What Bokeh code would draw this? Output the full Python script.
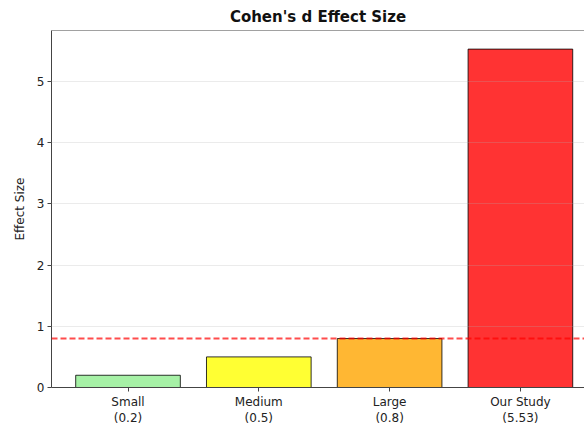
from bokeh.plotting import figure
from bokeh.models import Range1d, FixedTicker, Span, ColumnDataSource
from bokeh.embed import file_html
from bokeh.resources import INLINE

categories = ["Small\n(0.2)", "Medium\n(0.5)", "Large\n(0.8)", "Our Study\n(5.53)"]
effect_sizes = [0.2, 0.5, 0.8, 5.53]
bar_colors = ["#90EE90", "#FFFF00", "#FFA500", "#FF0000"]
threshold = 0.8
y_ticks = [0, 1, 2, 3, 4, 5]

positions = list(range(len(categories)))
src = ColumnDataSource(dict(x=positions, top=effect_sizes, color=bar_colors))

y_top = max(effect_sizes) * 1.055

p = figure(frame_width=533, frame_height=357, output_backend="svg", toolbar_location=None,
           x_range=Range1d(-0.585, 3.49), y_range=Range1d(0, y_top),
           min_border_left=51, min_border_top=30, min_border_right=0, min_border_bottom=0,
           title="Cohen's d Effect Size")
p.outline_line_color = None
p.background_fill_color = "white"
p.border_fill_color = "white"

p.title.align = "center"
p.title.text_font = "DejaVu Sans"
p.title.text_font_size = "15px"
p.title.text_font_style = "bold"
p.title.text_color = "#111111"

p.vbar(x="x", top="top", width=0.8, bottom=0, source=src, fill_color="color", fill_alpha=0.8,
       line_color="black", line_alpha=0.8, line_width=1)

p.add_layout(Span(location=threshold, dimension="width", line_color="red", line_alpha=0.7,
                  line_width=2, line_dash="6 3"))
p.add_layout(Span(location=y_top, dimension="width", line_color="#444444", line_width=1))

p.xgrid.visible = False
p.ygrid.ticker = FixedTicker(ticks=y_ticks)
p.ygrid.grid_line_color = "#b0b0b0"
p.ygrid.grid_line_alpha = 0.25
p.ygrid.level = "overlay"

p.xaxis.ticker = FixedTicker(ticks=positions)
p.xaxis.major_label_overrides = {i: c for i, c in enumerate(categories)}
p.yaxis.ticker = FixedTicker(ticks=y_ticks)
p.yaxis.axis_label = "Effect Size"

for ax in (p.xaxis, p.yaxis):
    ax.axis_line_color = "#444444"
    ax.axis_line_width = 1
    ax.major_tick_line_color = "#444444"
    ax.major_tick_out = 4
    ax.major_tick_in = 0
    ax.minor_tick_line_color = None
    ax.major_label_text_font = "DejaVu Sans"
    ax.major_label_text_font_size = "12px"
    ax.major_label_text_color = "#222222"
    ax.major_label_standoff = 3
    ax.axis_label_text_font = "DejaVu Sans"
    ax.axis_label_text_font_size = "12px"
    ax.axis_label_text_font_style = "normal"
    ax.axis_label_text_color = "#222222"

p.yaxis.axis_label_standoff = 7

open("out.html", "w").write(file_html(p, INLINE))
